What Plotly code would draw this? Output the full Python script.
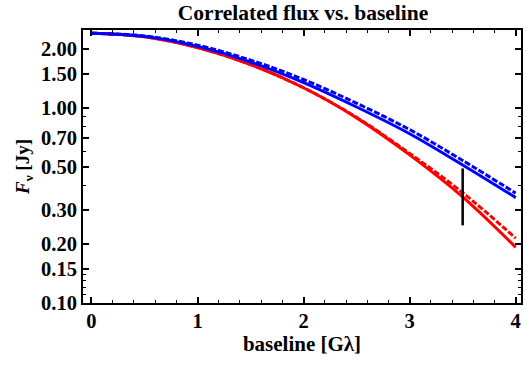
import plotly.graph_objects as go

baseline = [0, 0.5, 1, 1.5, 2, 2.5, 3, 3.5, 4]
blue_solid = [2.42, 2.33, 2.07, 1.72, 1.35, 1.012, 0.738, 0.51, 0.347]
blue_dashed = [2.42, 2.34, 2.10, 1.76, 1.40, 1.058, 0.775, 0.538, 0.366]
red_solid = [2.42, 2.32, 2.04, 1.67, 1.27, 0.89, 0.575, 0.35, 0.193]
red_dashed = [2.42, 2.32, 2.04, 1.67, 1.27, 0.895, 0.585, 0.368, 0.215]

bar_x = [3.5, 3.5]
bar_y = [0.25, 0.49]

y_ticks = [0.10, 0.15, 0.20, 0.30, 0.50, 0.70, 1.00, 1.50, 2.00]
y_minor = [0.11, 0.12, 0.13, 0.14, 0.4, 0.6, 0.8, 0.9]
x_ticks = [0, 1, 2, 3, 4]
x_minor = [i / 5 for i in range(0, 21) if i % 5 != 0]

fig = go.Figure()
fig.add_trace(go.Scatter(x=baseline, y=red_solid, mode="lines", line=dict(color="#ff0000", width=3, shape="spline")))
fig.add_trace(go.Scatter(x=baseline, y=red_dashed, mode="lines", line=dict(color="#ff0000", width=3, dash="6px,2px", shape="spline")))
fig.add_trace(go.Scatter(x=baseline, y=blue_solid, mode="lines", line=dict(color="#0000ff", width=3, shape="spline")))
fig.add_trace(go.Scatter(x=baseline, y=blue_dashed, mode="lines", line=dict(color="#0000ff", width=3, dash="6px,2px", shape="spline")))
fig.add_trace(go.Scatter(x=bar_x, y=bar_y, mode="lines", line=dict(color="black", width=2.5)))

tick_font = dict(family="Liberation Serif", color="black", size=20.5)
xtitle_font = dict(family="Liberation Serif", color="black", size=21)
ytitle_font = dict(family="Liberation Serif", color="black", size=19)

fig.update_layout(
    width=527, height=367,
    margin=dict(l=83, r=4, t=30, b=64),
    paper_bgcolor="white", plot_bgcolor="white",
    showlegend=False,
    font=tick_font,
    title=dict(text="<b>Correlated flux vs. baseline</b>", x=0.575, xanchor="center", y=0.967, yanchor="middle",
               font=dict(family="Liberation Serif", size=21.5, color="black")),
)
fig.update_xaxes(
    range=[-0.08, 4.05], showgrid=False, zeroline=False,
    showline=True, linecolor="black", linewidth=2, mirror="ticks",
    ticks="inside", ticklen=6, tickwidth=1.5, tickcolor="black",
    tickvals=x_ticks, ticktext=[f"<b>{v}</b>" for v in x_ticks],
    tickfont=tick_font, ticklabelstandoff=-2,
    minor=dict(tickvals=x_minor, ticks="inside", ticklen=3, tickwidth=1, tickcolor="black"),
    title=dict(text="<b>baseline [Gλ]</b>", font=xtitle_font, standoff=3),
)
fig.update_yaxes(
    type="log", range=[-1, 0.4], showgrid=False, zeroline=False,
    showline=True, linecolor="black", linewidth=2, mirror="ticks",
    ticks="inside", ticklen=6, tickwidth=1.5, tickcolor="black",
    tickvals=y_ticks, ticktext=[f"<b>{v:.2f}</b>" for v in y_ticks],
    tickfont=tick_font,
    minor=dict(tickvals=y_minor, ticks="inside", ticklen=3, tickwidth=1, tickcolor="black"),
    title=dict(text="<b><i>F</i><sub>ν</sub> [Jy]</b>", font=ytitle_font, standoff=6),
)

fig.write_html("out.html", config={"displayModeBar": False},
               post_script="document.body.style.margin='0';")
